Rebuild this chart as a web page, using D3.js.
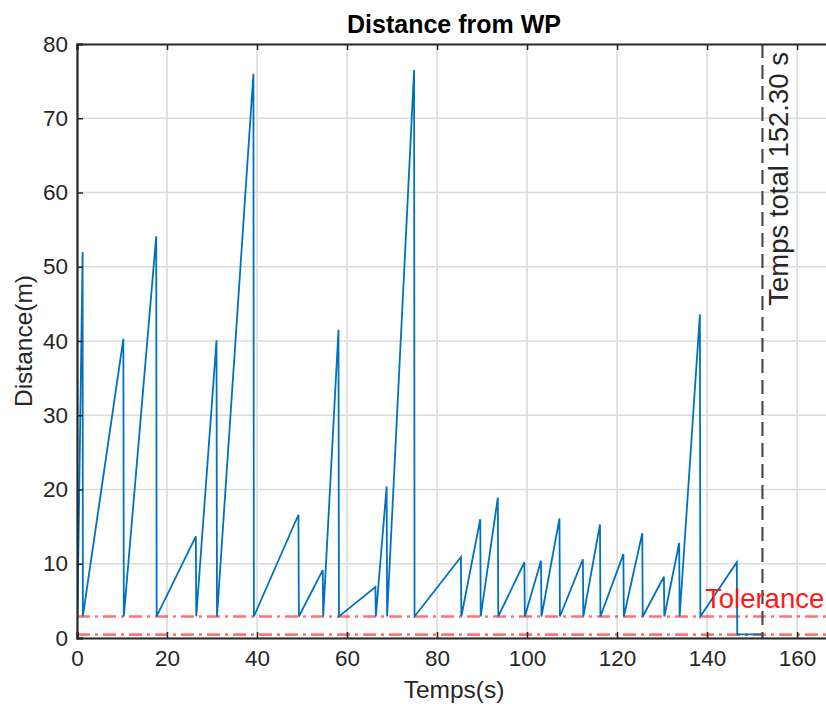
<!DOCTYPE html>
<html><head><meta charset="utf-8">
<script src="https://cdn.jsdelivr.net/npm/d3@7"></script>
<style>body{margin:0;background:#fff}svg{display:block}</style>
</head><body><div id="chart"></div>
<script>
const times = [0, 0.1, 1.25, 1.3, 10.3, 10.4, 17.6, 17.7, 26.4, 26.5, 31.0, 31.1, 39.2, 39.3, 49.2, 49.3, 54.6, 54.7, 58.1, 58.2, 66.3, 66.4, 68.8, 68.9, 74.9, 75.0, 85.3, 85.4, 89.6, 89.7, 93.5, 93.6, 99.4, 99.5, 103.1, 103.2, 107.2, 107.3, 112.4, 112.5, 116.2, 116.3, 121.4, 121.5, 125.6, 125.7, 130.4, 130.5, 133.8, 133.9, 138.4, 138.5, 146.6, 146.7, 152.3];
const distances = [30, 2.9, 52, 2.9, 40.3, 2.9, 54.1, 2.9, 13.7, 2.9, 40.1, 2.9, 76.0, 2.9, 16.6, 2.9, 9.15, 2.9, 41.5, 2.9, 6.85, 2.9, 20.4, 2.9, 76.5, 2.9, 10.9, 2.9, 16.0, 2.9, 18.9, 2.9, 10.2, 2.9, 10.4, 2.9, 16.1, 2.9, 10.6, 2.9, 15.3, 2.9, 11.3, 2.9, 14.1, 2.9, 8.25, 2.9, 12.8, 2.9, 43.6, 2.9, 10.2, 0.5, 0.5];
const toleranceLines = [2.9, 0.45];
const totalTime = 152.3;
const xTicks = [0, 20, 40, 60, 80, 100, 120, 140, 160, 180];
const yTicks = [0, 10, 20, 30, 40, 50, 60, 70, 80];
const xDomain = [0, 167.53];
const yDomain = [0, 80];
const titleText = "Distance from WP";
const xLabelText = "Temps(s)";
const yLabelText = "Distance(m)";
const toleranceText = "Tolerance";
const totalLabel = "Temps total " + totalTime.toFixed(2) + " s";

const W = 826, H = 704;
const L = 77, T = 44, R = 831, B = 638;
const font = "'Liberation Sans', Arial, Helvetica, sans-serif";
const axisColor = "#262626";

const svg = d3.select("#chart").append("svg").attr("width", W).attr("height", H)
  .style("font-family", font);

const x = d3.scaleLinear().domain(xDomain).range([L, R]);
const y = d3.scaleLinear().domain(yDomain).range([B, T]);

svg.append("defs").append("clipPath").attr("id", "clip")
  .append("rect").attr("x", L).attr("y", T).attr("width", R - L).attr("height", B - T);

// grid
const grid = svg.append("g").attr("clip-path", "url(#clip)");
grid.selectAll(".gx").data(xTicks).enter().append("line")
  .attr("x1", d => x(d)).attr("x2", d => x(d)).attr("y1", T).attr("y2", B)
  .attr("stroke", "#dcdcdc").attr("stroke-width", 1.6);
grid.selectAll(".gy").data(yTicks).enter().append("line")
  .attr("x1", L).attr("x2", R).attr("y1", d => y(d)).attr("y2", d => y(d))
  .attr("stroke", "#dcdcdc").attr("stroke-width", 1.6);

// axes via d3
const xAxis = d3.axisBottom(x).tickValues(xTicks.filter(d => d <= xDomain[1])).tickSize(-6).tickPadding(12).tickFormat(d3.format("d"));
const xAxisTop = d3.axisTop(x).tickValues(xTicks.filter(d => d <= xDomain[1])).tickSize(-6).tickFormat("");
const yAxis = d3.axisLeft(y).tickValues(yTicks).tickSize(-6).tickPadding(9).tickFormat(d3.format("d"));

// data layer
const plot = svg.append("g").attr("clip-path", "url(#clip)");
plot.selectAll(".tol").data(toleranceLines).enter().append("line")
  .attr("x1", L).attr("x2", R).attr("y1", d => y(d)).attr("y2", d => y(d))
  .attr("stroke", "rgba(255,0,0,0.55)").attr("stroke-width", 2.6)
  .attr("stroke-dasharray", "13,5,3,5");

const pts = times.map((t, i) => [t, distances[i]]);
plot.append("path").datum(pts)
  .attr("d", d3.line().x(d => x(d[0])).y(d => y(d[1])))
  .attr("fill", "none").attr("stroke", "#0072BD").attr("stroke-width", 1.8)
  .attr("stroke-linejoin", "miter");

plot.append("line").attr("x1", x(totalTime)).attr("x2", x(totalTime)).attr("y1", T).attr("y2", B)
  .attr("stroke", "#4a4a4a").attr("stroke-width", 2.2).attr("stroke-dasharray", "14,7");

const gx = svg.append("g").attr("transform", `translate(0,${B})`).call(xAxis);
const gxt = svg.append("g").attr("transform", `translate(0,${T})`).call(xAxisTop);
const gy = svg.append("g").attr("transform", `translate(${L},0)`).call(yAxis);
[gx, gxt, gy].forEach(g => {
  g.select(".domain").attr("stroke", axisColor).attr("stroke-width", 2.2);
  g.selectAll(".tick line").attr("stroke", axisColor).attr("stroke-width", 1.5);
  g.selectAll(".tick text").attr("fill", axisColor).style("font-size", "22.5px").style("font-family", font);
});

// texts
const lx = x(totalTime) + 26, ly = T + 8;
svg.append("text").attr("x", lx).attr("y", ly)
  .attr("transform", `rotate(-90, ${lx}, ${ly})`)
  .attr("text-anchor", "end").attr("fill", axisColor)
  .style("font-size", "27.5px").text(totalLabel);

svg.append("text").attr("x", 705).attr("y", 608).attr("fill", "#ff1a1a")
  .style("font-size", "27.5px").text(toleranceText);

svg.append("text").attr("x", (L + R) / 2).attr("y", 33).attr("text-anchor", "middle")
  .attr("fill", "#000").style("font-size", "25px").style("font-weight", "bold").text(titleText);

svg.append("text").attr("x", (L + R) / 2).attr("y", 698).attr("text-anchor", "middle")
  .attr("fill", axisColor).style("font-size", "24.5px").text(xLabelText);

svg.append("text").attr("transform", `translate(32,${(T + B) / 2}) rotate(-90)`)
  .attr("text-anchor", "middle").attr("fill", axisColor)
  .style("font-size", "24.5px").text(yLabelText);
</script></body></html>
